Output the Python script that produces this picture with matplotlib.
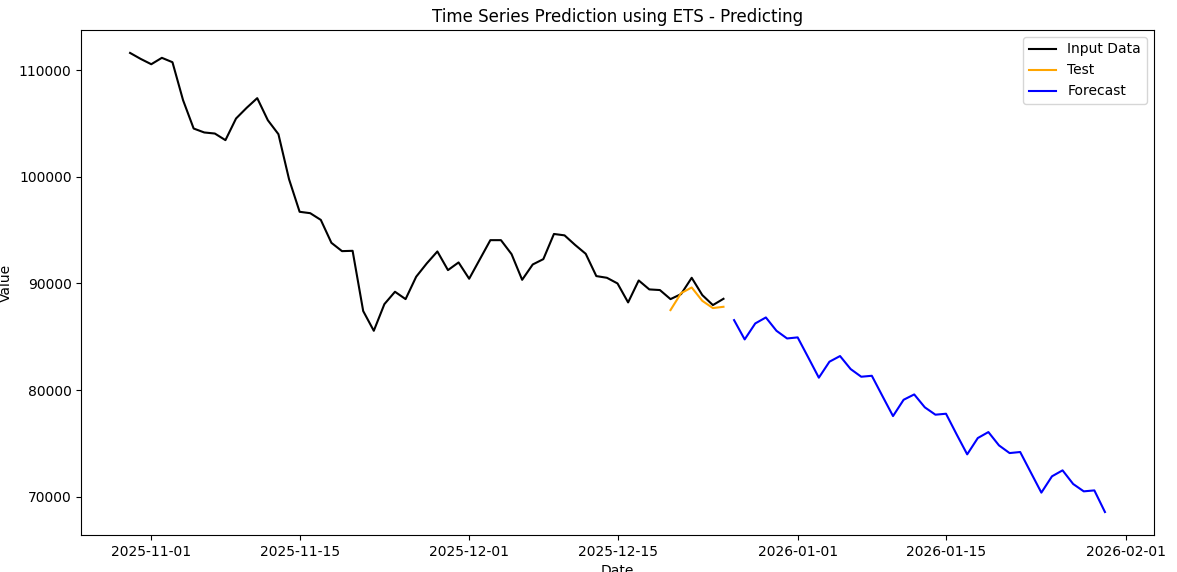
import matplotlib
matplotlib.use("Agg")
import matplotlib.pyplot as plt
import pandas as pd

input_start = "2025-10-30"
input_values = [111620, 111060, 110560, 111160, 110750, 107190, 104530, 104160, 104060, 103440,
                105470, 106470, 107380, 105310, 104000, 99780, 96720, 96590, 95960, 93810,
                93030, 93060, 87410, 85560, 88060, 89220, 88530, 90630, 91880, 93000,
                91250, 91970, 90440, 92250, 94060, 94060, 92750, 90340, 91780, 92280,
                94640, 94510, 93610, 92780, 90690, 90530, 90000, 88220, 90280, 89440,
                89380, 88530, 89000, 90530, 88910, 87970, 88560]

test_start = "2025-12-20"
test_values = [87500, 89090, 89620, 88370, 87690, 87810]

forecast_start = "2025-12-26"
forecast_values = [86560, 84750, 86250, 86810, 85560, 84840, 84940, 83060, 81160, 82660,
                   83190, 81970, 81250, 81340, 79440, 77560, 79090, 79590, 78380, 77690,
                   77780, 75850, 73970, 75500, 76060, 74810, 74090, 74190, 72280, 70380,
                   71910, 72470, 71190, 70500, 70590, 68560]

input_dates = pd.date_range(input_start, periods=len(input_values), freq="D")
test_dates = pd.date_range(test_start, periods=len(test_values), freq="D")
forecast_dates = pd.date_range(forecast_start, periods=len(forecast_values), freq="D")

fig = plt.figure(figsize=(11.77, 5.72), dpi=100)
ax = fig.add_subplot(111)
fig.subplots_adjust(left=0.0691, right=0.9802, top=0.9476, bottom=0.0647)

ax.plot(input_dates, input_values, color="black", label="Input Data")
ax.plot(test_dates, test_values, color="orange", label="Test")
ax.plot(forecast_dates, forecast_values, color="blue", label="Forecast")

ax.set_title("Time Series Prediction using ETS - Predicting")
ax.set_xlabel("Date")
ax.set_ylabel("Value")
ax.legend(loc="upper right")

fig.savefig("out.png", dpi=100)
